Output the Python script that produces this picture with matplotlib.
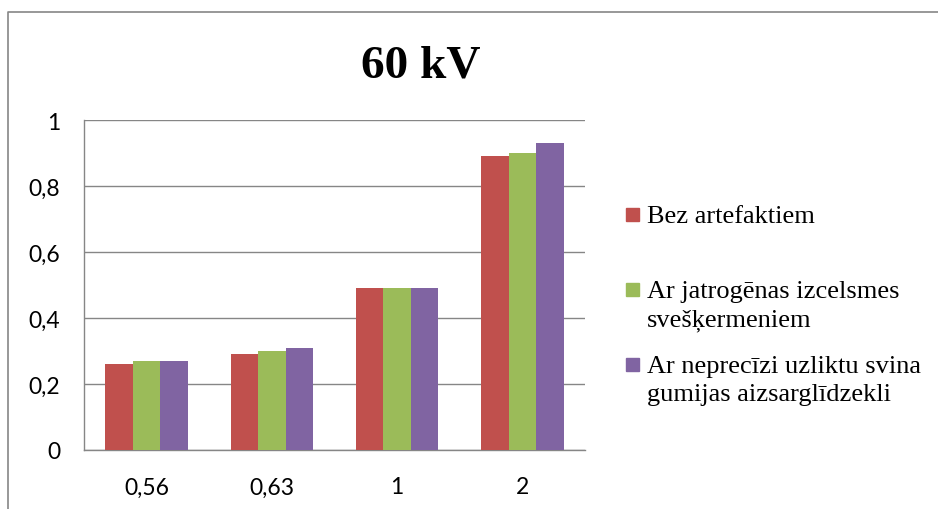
import matplotlib.pyplot as plt
from matplotlib.lines import Line2D
from matplotlib.patches import Rectangle
import numpy as np

# measured values for each exposure group
categories = ['0,56', '0,63', '1', '2']
bez_artefaktiem = [0.26, 0.29, 0.49, 0.89]
jatrogenas = [0.27, 0.30, 0.49, 0.90]
neprecizi = [0.27, 0.31, 0.49, 0.93]
series_names = ['Bez artefaktiem',
                'Ar jatrogēnas izcelsmes\nsvešķermeniem',
                'Ar neprecīzi uzliktu svina\ngumijas aizsarglīdzekli']
y_ticks = [0, 0.2, 0.4, 0.6, 0.8, 1]
y_tick_labels = ['0', '0,2', '0,4', '0,6', '0,8', '1']

colors = ['#C0504D', '#9BBB59', '#8064A2']
grey = '#868686'

fig = plt.figure(figsize=(9.38, 5.10), dpi=100)
ax = fig.add_axes([0.0896, 0.1157, 0.5341, 0.647])

x = np.arange(len(categories))
width = 0.22
all_series = [bez_artefaktiem, jatrogenas, neprecizi]
for i, vals in enumerate(all_series):
    ax.bar(x + (i - 1) * width, vals, width, color=colors[i], zorder=3)

ax.set_xlim(-0.5, len(categories) - 0.5)
ax.set_ylim(0, 1)
ax.set_yticks(y_ticks)
ax.set_yticklabels(y_tick_labels)
ax.set_xticks(x)
ax.set_xticklabels(categories)
ax.yaxis.grid(True, color=grey, linewidth=1.0, zorder=0)
ax.tick_params(length=0, labelsize=16.5)
ax.tick_params(axis='y', pad=17)
ax.tick_params(axis='x', pad=19)
for lab in ax.get_xticklabels() + ax.get_yticklabels():
    lab.set_fontfamily('Lato')

for s in ['top', 'right']:
    ax.spines[s].set_visible(False)
for s in ['left', 'bottom']:
    ax.spines[s].set_color(grey)
    ax.spines[s].set_linewidth(1.0)

fig.text(421 / 938, 1 - 66 / 510, '60 kV', ha='center', va='center',
         fontsize=34, fontweight='bold', family='Liberation Serif')

# legend on the right, drawn by hand to keep Excel-like spacing
W, H = 938, 510
marker_y = [215, 290, 365]
baseline_y = [223, 298, 373]
for i, name in enumerate(series_names):
    fig.patches.append(Rectangle((626 / W, 1 - (marker_y[i] + 6.5) / H), 13 / W, 13 / H,
                                 transform=fig.transFigure, color=colors[i]))
    lines = name.split('\n')
    for j, line in enumerate(lines):
        fig.text(647 / W, 1 - (baseline_y[i] + 28 * j) / H, line, ha='left',
                 va='baseline', fontsize=19, family='Liberation Serif')

# chart border (left and top edges)
fig.add_artist(Line2D([7.5 / W, 7.5 / W, 1], [0, 1 - 12.5 / H, 1 - 12.5 / H],
                      transform=fig.transFigure, color=grey, linewidth=1.2))

fig.savefig('out.png', dpi=100)
